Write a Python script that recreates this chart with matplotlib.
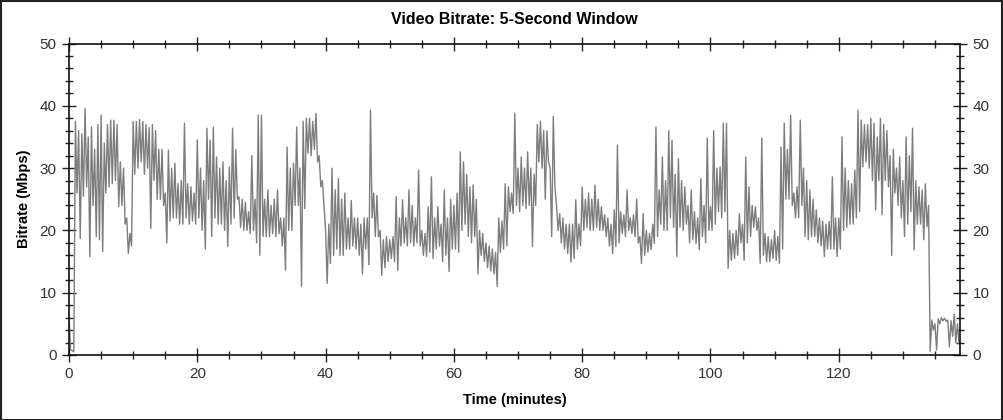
import numpy as np
import matplotlib
matplotlib.use("Agg")
import matplotlib.pyplot as plt
from matplotlib.ticker import MultipleLocator
from matplotlib.patches import Rectangle

plt.rcParams['font.family'] = ['Liberation Sans', 'DejaVu Sans']

# Video bitrate (Mbps), one pair per half-minute bin:
# local maximum and local minimum of the 5-second-window bitrate.
bin_minutes = 0.5
bitrate_hi = [
    6.5, 0.7, 37.5, 36, 35.5, 39.6, 35, 36.6, 33, 37,
    38.5, 34, 37, 37.7, 37.7, 37, 31, 30, 22, 19.5,
    37.5, 37.5, 37.8, 37.5, 37, 36.5, 37, 36, 33, 33,
    26, 32.9, 30, 30.8, 27.5, 28, 37.2, 27.5, 27, 26,
    34.5, 30, 28, 36.4, 34.5, 36.6, 31.8, 30, 31, 28,
    30.2, 36.4, 33, 25.4, 25, 24.5, 23, 32, 25, 38.5,
    38.5, 25, 26.5, 24, 25, 26.5, 22, 22, 33.4, 30,
    30.8, 36.6, 30, 37.5, 38, 38, 37.5, 38.8, 32, 28,
    20, 21, 30, 26.5, 28.3, 25, 26, 22, 24.8, 22,
    22, 21, 22, 22, 39.3, 26, 25.6, 20, 18.5, 19,
    18.5, 19, 25.4, 22, 24.9, 22, 26.5, 24, 22, 29.7,
    20, 19.5, 23.8, 28.6, 22, 23.8, 21, 26.5, 22, 25,
    24, 26, 32.6, 31, 29, 27, 27.3, 25, 20, 19.5,
    18, 17.5, 17, 16.5, 22, 21.5, 27.5, 27, 26, 38.8,
    30, 31.8, 30, 32.6, 30, 29, 37, 37.5, 36, 36,
    30, 38.3, 24, 22.7, 22, 21, 21, 21, 24.9, 21,
    27, 25, 26, 25, 27.3, 25, 23.8, 22.5, 22, 21,
    23.3, 33.7, 23, 22.5, 26.5, 22, 22.5, 25, 19, 22.7,
    20, 19.5, 21, 36.6, 26.5, 31.8, 28, 36, 34.5, 29,
    31.5, 28, 27, 24, 26.5, 23, 22, 28.3, 24, 34.8,
    23.8, 36, 30, 30.2, 37.2, 37.2, 20, 19.5, 20, 22.7,
    21, 31.8, 27, 24, 23.8, 22, 34.8, 19.5, 19, 18.5,
    20, 19, 33.4, 37.2, 33, 38.5, 26, 27, 37.7, 30,
    28, 26.5, 25, 23.3, 22, 21.5, 21, 21.4, 28.6, 22,
    22, 35, 30, 28, 27.5, 29.7, 39.3, 37.7, 37, 37,
    38, 37.2, 35, 38, 37, 36, 32, 33, 30, 31.8,
    28, 35, 32, 36.4, 28, 27, 26.5, 27.5, 24, 5.6,
    5, 5.8, 6, 5.9, 5.6, 5.5, 6.6, 5,
]
bitrate_lo = [
    0.8, 0.5, 26, 18.7, 25.5, 27, 15.8, 24, 19, 18.5,
    16.6, 26, 27, 27.5, 28, 23.8, 24, 21, 16.3, 17.5,
    29, 30, 31, 29, 30, 20.3, 28, 25, 25, 24,
    18, 21.5, 22, 22, 21, 21, 22, 21, 21.5, 21,
    22, 20, 17, 25, 19, 22, 21, 21, 20, 17.4,
    21, 22, 25, 20.5, 20, 20, 19.5, 20, 18, 16,
    19, 19, 19, 19.5, 19, 19.5, 17.5, 13.6, 20, 20,
    24, 24, 11, 23.5, 32.4, 32, 33, 31, 27, 24,
    11.5, 14.7, 16, 17, 16, 16, 17, 17, 17.5, 17,
    16, 13, 17, 14.5, 22, 19, 19, 12.8, 14, 15,
    15.5, 15, 13.6, 17.5, 18, 17.5, 18, 17.5, 18, 17.5,
    16, 15.8, 16.5, 15.5, 17, 17.5, 15, 16, 13.4, 17,
    17, 16.5, 20, 21, 19, 18, 19, 13, 16, 15,
    14, 13.5, 13, 11, 16.5, 17, 17.5, 23, 22.7, 24,
    23, 24, 23.5, 24, 17.4, 24, 31, 30, 25, 31,
    19, 27, 20, 18, 17, 16.3, 14.9, 15.5, 17, 17.5,
    20, 20.5, 20, 20, 20.5, 20, 20, 19, 17.5, 16.3,
    17.4, 18, 19.5, 19, 20, 19.5, 19, 18, 14.7, 16,
    16.5, 16.9, 17.9, 19, 21, 20, 20, 22, 20.5, 15.8,
    20.5, 20, 21, 18, 18.5, 17.9, 16.9, 19, 18, 20,
    20, 21, 23, 22, 23, 13.9, 15.2, 15.5, 16, 18,
    15.2, 18, 19, 20.5, 20, 14.7, 16, 15, 15, 15.5,
    15.2, 14.7, 17, 25, 25, 24, 22, 22, 24, 19,
    18.5, 19, 19, 18, 17.5, 15.8, 17, 17, 17, 15.8,
    17, 20, 20.5, 21, 21, 22, 23, 30.2, 31, 30,
    28, 23.3, 28, 22.5, 28, 27, 16, 26, 24, 22,
    19, 21, 23, 16.9, 21, 21, 18.5, 20.6, 0.6, 4,
    0.8, 5, 5.5, 5.4, 1.3, 3, 2, 1.8,
]

x_ticks = [0, 20, 40, 60, 80, 100, 120]
y_ticks = [0, 10, 20, 30, 40, 50]

hi = np.asarray(bitrate_hi, dtype=float)
lo = np.asarray(bitrate_lo, dtype=float)
n = min(len(hi), len(lo))
hi, lo = hi[:n], lo[:n]
t_start = np.arange(n) * bin_minutes
t = np.empty(2 * n)
v = np.empty(2 * n)
t[0::2] = t_start
t[1::2] = t_start + bin_minutes / 2
v[0::2] = hi
v[1::2] = lo

fig = plt.figure(figsize=(10.04, 4.2), dpi=100)
ax = fig.add_axes([69 / 1004, 1 - 355 / 420, (960 - 69) / 1004, (355 - 43.5) / 420])

ax.plot(t, v, color='#7d7d7d', linewidth=1.0)

ax.set_xlim(0, 138.9)
ax.set_ylim(0, 50)
ax.set_xticks(x_ticks)
ax.set_yticks(y_ticks)
ax.xaxis.set_minor_locator(MultipleLocator(5))
ax.yaxis.set_minor_locator(MultipleLocator(2))

ax.tick_params(which='both', direction='inout', top=True, right=True,
               labelright=True, labelsize=11, labelcolor='#333333',
               color='#222222', width=1.0)
ax.tick_params(which='major', length=10, pad=4)
ax.tick_params(which='minor', length=6)
for s in ax.spines.values():
    s.set_linewidth(1.2)
    s.set_color('#111111')

ax.set_title('Video Bitrate: 5-Second Window', fontsize=11.5, fontweight='bold',
             pad=14)
ax.set_xlabel('Time (minutes)', fontsize=10.5, fontweight='bold', labelpad=8)
ax.set_ylabel('Bitrate (Mbps)', fontsize=10.5, fontweight='bold', labelpad=6)

fig.patches.append(Rectangle((0.0005, 0.001), 0.998, 0.997, transform=fig.transFigure,
                             fill=False, edgecolor='#222222', linewidth=1.5))

fig.savefig('out.png', dpi=100)
